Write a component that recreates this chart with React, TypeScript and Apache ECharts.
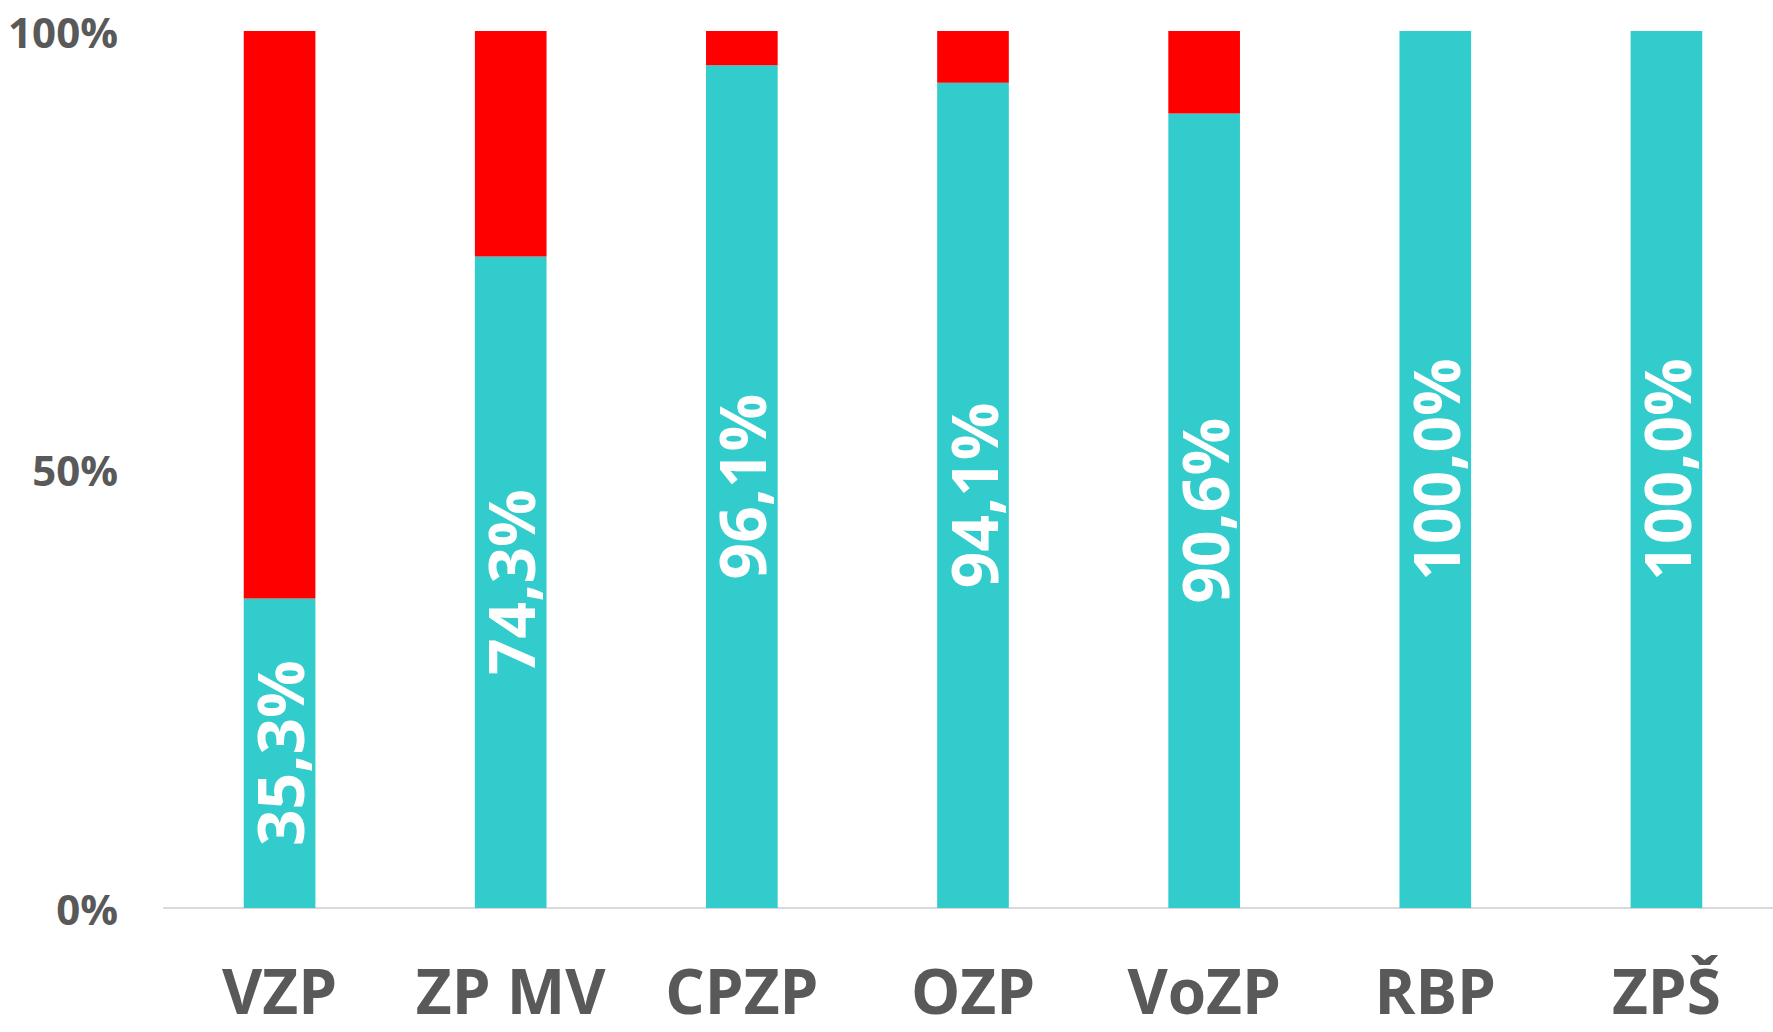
import React, { useEffect, useRef } from "react";
import * as echarts from "echarts";

const categories = ["VZP", "ZP MV", "CPZP", "OZP", "VoZP", "RBP", "ZPŠ"];
const tealValues = [35.3, 74.3, 96.1, 94.1, 90.6, 100.0, 100.0];
const redValues = [64.7, 25.7, 3.9, 5.9, 9.4, 0, 0];
const yTicks = [0, 50, 100];

export default function App() {
  const ref = useRef<HTMLDivElement>(null);
  useEffect(() => {
    if (!ref.current) return;
    const chart = echarts.init(ref.current, null, { renderer: "svg" });
    chart.setOption({
      animation: false,
      backgroundColor: "#ffffff",
      grid: { left: 164, right: 0, top: 31, bottom: 124, containLabel: false },
      xAxis: {
        type: "category",
        data: categories,
        axisLine: { show: true, lineStyle: { color: "#D9D9D9", width: 2 } },
        axisTick: { show: false },
        axisLabel: {
          color: "#595959",
          fontFamily: "Open Sans",
          fontWeight: "bold",
          fontSize: 62,
          lineHeight: 62,
          margin: 82,
          verticalAlign: "middle",
          interval: 0,
        },
      },
      yAxis: {
        type: "value",
        min: 0,
        max: 100,
        interval: 50,
        axisLine: { show: false },
        axisTick: { show: false },
        splitLine: { show: false },
        axisLabel: {
          color: "#595959",
          fontFamily: "Open Sans",
          fontWeight: "bold",
          fontSize: 42,
          margin: 46,
          formatter: (v: number) => (yTicks.includes(v) ? v + "%" : ""),
        },
      },
      series: [
        {
          type: "bar",
          stack: "total",
          data: tealValues,
          barWidth: "31%",
          itemStyle: { color: "#33CCCC" },
          label: {
            show: true,
            position: "inside",
            rotate: 90,
            color: "#ffffff",
            fontFamily: "Open Sans",
            fontWeight: "bold",
            fontSize: 64,
            formatter: (p: any) => p.value.toFixed(1).replace(".", ",") + "%",
          },
        },
        {
          type: "bar",
          stack: "total",
          data: redValues,
          barWidth: "31%",
          itemStyle: { color: "#FF0000" },
        },
      ],
    });
    return () => chart.dispose();
  }, []);
  return (
    <div
      ref={ref}
      style={{ position: "fixed", left: 0, top: 0, width: 1782, height: 1032 }}
    />
  );
}
